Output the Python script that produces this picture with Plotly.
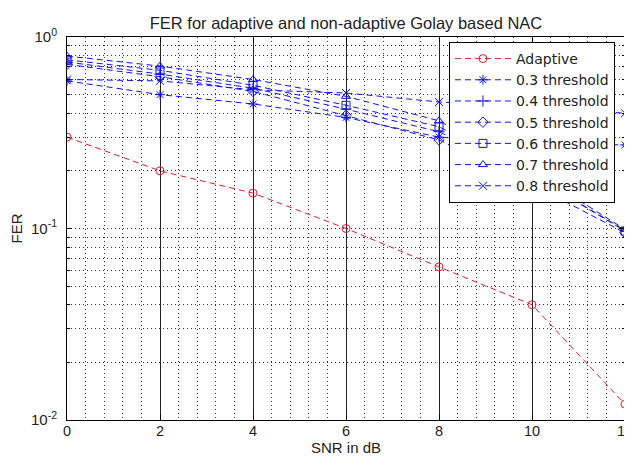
import plotly.graph_objects as go

snr = [0, 2, 4, 6, 8, 10, 12]
adaptive = [0.30, 0.20, 0.153, 0.10, 0.063, 0.040, 0.0121]
th03 = [0.59, 0.50, 0.447, 0.38, 0.30, 0.28, 0.273]
th04 = [0.74, 0.64, 0.54, 0.42, 0.32, 0.19, 0.098]
th05 = [0.72, 0.62, 0.52, 0.39, 0.29, 0.17, 0.095]
th06 = [0.76, 0.67, 0.56, 0.44, 0.34, 0.19, 0.097]
th07 = [0.795, 0.705, 0.60, 0.49, 0.365, 0.20, 0.099]
th08 = [0.60, 0.59, 0.53, 0.51, 0.458, 0.43, 0.40]

names = ["Adaptive", "0.3 threshold", "0.4 threshold", "0.5 threshold",
         "0.6 threshold", "0.7 threshold", "0.8 threshold"]
series = [adaptive, th03, th04, th05, th06, th07, th08]
symbols = ["circle-open", "asterisk-open", "cross-thin-open", "diamond-open",
           "square-open", "triangle-up-open", "x-thin-open"]
colors = ["#e8192c"] + ["#1010f0"] * 6

ytickvals = [0.01, 0.1, 1]
yticktext = ["10<sup>-2</sup>", "10<sup>-1</sup>", "10<sup>0</sup>"]

fig = go.Figure()
for name, ys, sym, col in zip(names, series, symbols, colors):
    fig.add_trace(go.Scatter(
        x=snr, y=ys, name=name, mode="lines+markers",
        line=dict(color=col, width=1, dash="6px,4px"),
        marker=dict(symbol=sym, size=8, color=col, line=dict(color=col, width=1)),
    ))

# page body has an 8px default margin: figure sits at (8, 8) in the window
W, H = 624, 449
fig.update_layout(
    width=W, height=H,
    margin=dict(l=59, r=7, t=29, b=37),
    plot_bgcolor="white", paper_bgcolor="white",
    font=dict(family="Liberation Sans, Arial, sans-serif", size=15, color="#222"),
    title=dict(text="FER for adaptive and non-adaptive Golay based NAC",
               x=0.5, xref="paper", xanchor="center",
               y=1 - 15 / H, yref="container", yanchor="middle",
               font=dict(size=16.5, color="#222")),
    legend=dict(x=0.982, xanchor="right", y=0.987, yanchor="top",
                bgcolor="white", bordercolor="black", borderwidth=1,
                font=dict(family="DejaVu Sans, sans-serif", size=14, color="#222"),
                tracegroupgap=0, itemwidth=56),
    showlegend=True,
    annotations=[dict(text="SNR in dB", xref="paper", yref="paper",
                      x=0.5, y=-0.0966, xanchor="center", yanchor="bottom",
                      showarrow=False, borderpad=0,
                      font=dict(size=15, color="#222"))],
)

fig.update_xaxes(
    range=[0, 12], tickvals=snr, ticktext=[str(v) for v in snr],
    tickfont=dict(size=14.5),
    showgrid=True, gridcolor="#222", gridwidth=1,
    zeroline=False, showline=True, linecolor="black", linewidth=1,
    mirror="ticks", ticks="inside", ticklen=5, tickcolor="black",
    ticklabeloverflow="allow", ticklabelstandoff=-2,
    minor=dict(dtick=0.4, tick0=0, showgrid=True, gridcolor="#333",
               griddash="1px,3px", gridwidth=1),
    automargin=False,
)
fig.update_yaxes(
    type="log", range=[-2, 0], tickvals=ytickvals, ticktext=yticktext,
    showgrid=True, gridcolor="#333", gridwidth=1, griddash="1px,3px",
    zeroline=False, showline=True, linecolor="black", linewidth=1,
    mirror="ticks", ticks="inside", ticklen=5, tickcolor="black",
    ticklabelstandoff=6,
    minor=dict(dtick="D1", showgrid=True, gridcolor="#333",
               griddash="1px,3px", gridwidth=1, ticks="inside", ticklen=3,
               tickcolor="black"),
    title=dict(text="FER", standoff=8, font=dict(size=15)),
    automargin=False,
)

fig.write_html("out.html")
